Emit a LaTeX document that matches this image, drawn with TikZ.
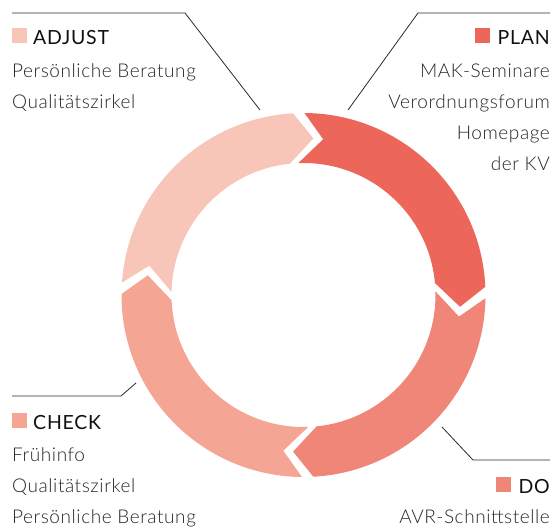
\documentclass[tikz,border=0pt]{standalone}
\usepackage{fontspec}
\setmainfont{Lato}
\newfontfamily\lightfont{Lato Light}[LetterSpace=3]
\newfontfamily\headfont{Lato}[LetterSpace=4]
\usetikzlibrary{calc}

% ring geometry (pt)
\def\Ro{182}\def\Rm{157}\def\Ri{132}
\def\dO{6.9}\def\dI{9.5}\def\gp{3.6}

% one chevron segment of the cycle, from the tip of the previous one (#1) to its own tip (#2)
\newcommand\cycleseg[3]{%
  \fill[#3] ({#1+\dO-\gp}:\Ro)
    arc[start angle={#1+\dO-\gp}, end angle={#2+\dO}, radius=\Ro]
    -- (#2:\Rm) -- ({#2+\dI}:\Ri)
    arc[start angle={#2+\dI}, end angle={#1+\dI-\gp}, radius=\Ri]
    -- ({#1-\gp}:\Rm) -- cycle;}

\definecolor{cplan}{HTML}{EC6759}
\definecolor{cdo}{HTML}{F08677}
\definecolor{ccheck}{HTML}{F4A593}
\definecolor{cadjust}{HTML}{F8C6B9}
\definecolor{bodytext}{HTML}{262626}
\definecolor{headtext}{HTML}{101010}
\definecolor{leadline}{HTML}{2A2A2A}

\begin{document}
\begin{tikzpicture}[x=1pt,y=1pt,
  legendsq/.style={minimum size=15pt,inner sep=0pt,outer sep=0pt},
  headlbl/.style={inner sep=0pt,font=\headfont\fontsize{19.5}{22}\selectfont,text=headtext},
  bodylbl/.style={inner sep=0pt,font=\lightfont\fontsize{19}{22}\selectfont,text=bodytext},
  leader/.style={draw=leadline,line width=0.8pt}]
\useasboundingbox (0,0) rectangle (555,-528);

% cycle ring
\begin{scope}[shift={(303.5,-295)}]
  \cycleseg{172.8}{86.4}{cadjust}
  \cycleseg{86.4}{-4.3}{cplan}
  \cycleseg{-4.3}{-93.8}{cdo}
  \cycleseg{-93.8}{-187.2}{ccheck}
\end{scope}

% ADJUST
\node[legendsq,fill=cadjust,anchor=north west] (sqA) at (12,-28) {};
\node[headlbl,anchor=base west] (hA) at (33,-44) {ADJUST};
\node[bodylbl,anchor=base west] (tA1) at (12,-77) {Persönliche Beratung};
\node[bodylbl,anchor=base west] (tA2) at (12,-108) {Qualitätszirkel};
\coordinate (lA1) at (12,-13);
\coordinate (lA2) at (185,-13);
\coordinate (lA3) at (260,-110);
\draw[leader] (lA1) -- (lA2) -- (lA3);

% PLAN
\node[headlbl,anchor=base east] (hP) at (550,-44) {PLAN};
\node[legendsq,fill=cplan,anchor=north east] (sqP) at ([xshift=-7pt]hP.west |- 0,-28) {};
\node[bodylbl,anchor=base east] (tP1) at (550,-77) {MAK-Seminare};
\node[bodylbl,anchor=base east] (tP2) at (550,-108) {Verordnungsforum};
\node[bodylbl,anchor=base east] (tP3) at (550,-139) {Homepage};
\node[bodylbl,anchor=base east] (tP4) at (550,-170) {der KV};
\coordinate (lP1) at (550,-13);
\coordinate (lP2) at (418,-13);
\coordinate (lP3) at (348,-110);
\draw[leader] (lP1) -- (lP2) -- (lP3);

% CHECK
\node[legendsq,fill=ccheck,anchor=north west] (sqC) at (12,-413) {};
\node[headlbl,anchor=base west] (hC) at (33,-429) {CHECK};
\node[bodylbl,anchor=base west] (tC1) at (12,-461) {Frühinfo};
\node[bodylbl,anchor=base west] (tC2) at (12,-492) {Qualitätszirkel};
\node[bodylbl,anchor=base west] (tC3) at (12,-523) {Persönliche Beratung};
\coordinate (lC1) at (12,-396);
\coordinate (lC2) at (121,-396);
\coordinate (lC3) at (136,-383);
\draw[leader] (lC1) -- (lC2) -- (lC3);

% DO
\node[headlbl,anchor=base east] (hD) at (550,-493) {DO};
\node[legendsq,fill=cdo,anchor=north east] (sqD) at ([xshift=-7pt]hD.west |- 0,-477) {};
\node[bodylbl,anchor=base east] (tD1) at (550,-523) {AVR-Schnittstelle};
\coordinate (lD1) at (442,-427);
\coordinate (lD2) at (473,-460);
\coordinate (lD3) at (550,-460);
\draw[leader] (lD1) -- (lD2) -- (lD3);
\end{tikzpicture}
\end{document}
